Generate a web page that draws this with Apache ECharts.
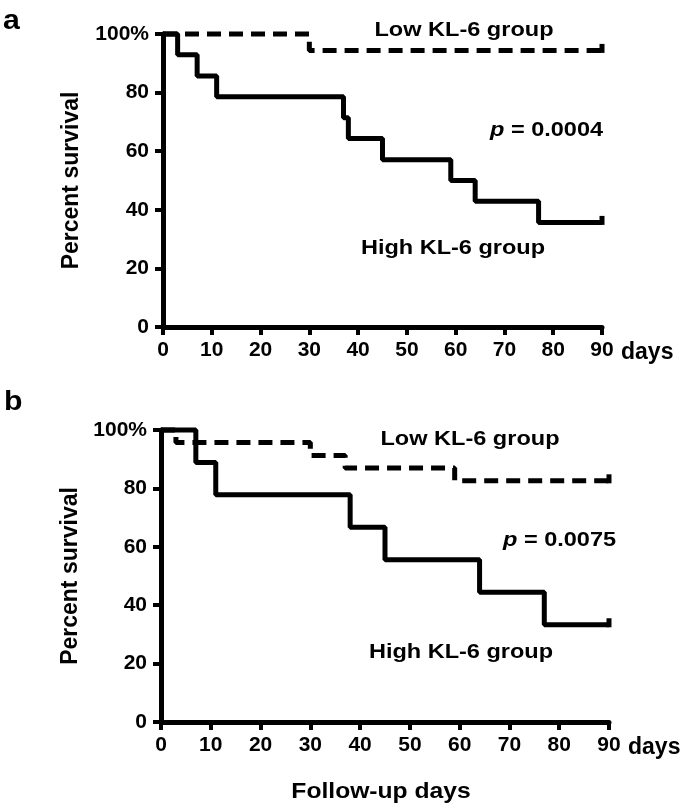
<!DOCTYPE html>
<html>
<head>
<meta charset="utf-8">
<script src="https://cdn.jsdelivr.net/npm/echarts@6/dist/echarts.min.js"></script>
<style>
  html, body { margin: 0; padding: 0; background: #fff; }
  #chart { width: 685px; height: 807px; }
</style>
</head>
<body>
<div id="chart"></div>
<script>
// survival curves, [day, percent] at each drop
var lowA = [[0, 100], [30, 94.4], [90, 94.4]];
var highA = [[0, 100], [3, 92.9], [7, 85.7], [11, 78.6], [37, 71.4], [38, 64.3], [45, 57.1], [59, 50.0], [64, 42.9], [77, 35.7], [90, 35.7]];
var censorA = [[90, 94.4], [90, 35.7]];

var lowB = [[0, 100], [3, 95.7], [30, 91.3], [37, 87.0], [59, 82.6], [90, 82.6]];
var highB = [[0, 100], [7, 88.9], [11, 77.8], [38, 66.7], [45, 55.6], [64, 44.4], [77, 33.3], [90, 33.3]];
var censorB = [[90, 82.6], [90, 33.3]];

var pValues = ['0.0004', '0.0075'];

var FONT = '"Liberation Sans", Arial, sans-serif';
var SX = 1.12; // source figure is a bit stretched sideways

function xAxisOpt(idx) {
    return {
        gridIndex: idx, type: 'value', min: 0, max: 90, interval: 10,
        name: 'days', nameLocation: 'end', nameGap: 19,
        nameTextStyle: { color: '#000', fontFamily: FONT, fontWeight: 'bold', fontSize: 23, verticalAlign: 'top', padding: [14, 0, 0, 0] },
        axisLine: { lineStyle: { color: '#000', width: 5 } },
        axisTick: { length: 8, lineStyle: { color: '#000', width: 4 } },
        axisLabel: { color: '#000', fontFamily: FONT, fontWeight: 'bold', fontSize: 21, margin: 13 },
        splitLine: { show: false }
    };
}
function yAxisOpt(idx, gap) {
    return {
        gridIndex: idx, type: 'value', min: 0, max: 100, interval: 20,
        name: 'Percent survival', nameLocation: 'middle', nameGap: gap,
        nameTextStyle: { color: '#000', fontFamily: FONT, fontWeight: 'bold', fontSize: 23 },
        axisLine: { show: true, lineStyle: { color: '#000', width: 5 } },
        axisTick: { show: true, length: 8, lineStyle: { color: '#000', width: 4 } },
        axisLabel: {
            color: '#000', fontFamily: FONT, fontWeight: 'bold', fontSize: 21, margin: 14,
            formatter: function (v) { return v === 100 ? '100%' : v; }
        },
        splitLine: { show: false }
    };
}
function curve(idx, data, dashed) {
    return {
        type: 'line', xAxisIndex: idx, yAxisIndex: idx, data: data, step: 'end',
        symbol: 'none', clip: false, animation: false,
        lineStyle: { color: '#000', width: 5, type: dashed ? [14, 8] : 'solid', cap: 'butt' }
    };
}
function censor(idx, data) {
    return {
        type: 'scatter', xAxisIndex: idx, yAxisIndex: idx, data: data,
        symbol: 'rect', symbolSize: [5, 9], symbolOffset: [0, -2], clip: false,
        itemStyle: { color: '#000', opacity: 1 }, animation: false
    };
}
function label(text, x, y, size, align) {
    return {
        type: 'text', x: x, y: y, scaleX: SX,
        style: { text: text, fill: '#000', fontFamily: FONT, fontWeight: 'bold', fontSize: size, align: align || 'center', verticalAlign: 'middle' }
    };
}
function pLabel(val, x, y) {
    return {
        type: 'text', x: x, y: y, scaleX: SX,
        style: {
            text: '{i|p} = ' + val, fill: '#000', fontFamily: FONT, fontWeight: 'bold', fontSize: 21,
            align: 'left', verticalAlign: 'middle',
            rich: { i: { fontStyle: 'italic', fontFamily: FONT, fontWeight: 'bold', fontSize: 21, fill: '#000' } }
        }
    };
}

var chart = echarts.init(document.getElementById('chart'));
chart.setOption({
    backgroundColor: '#fff',
    animation: false,
    grid: [
        { left: 163, top: 34, width: 439, height: 293 },
        { left: 161, top: 430, width: 448, height: 292 }
    ],
    xAxis: [xAxisOpt(0), xAxisOpt(1)],
    yAxis: [yAxisOpt(0, 80), yAxisOpt(1, 78)],
    series: [
        curve(0, lowA, true), curve(0, highA, false), censor(0, censorA),
        curve(1, lowB, true), curve(1, highB, false), censor(1, censorB)
    ],
    graphic: [
        label('a', 3, 22, 27, 'left'),
        label('Low KL-6 group', 464, 30, 21),
        pLabel(pValues[0], 490, 130),
        label('High KL-6 group', 453, 248, 21),
        label('b', 4, 403, 27, 'left'),
        label('Low KL-6 group', 470, 439, 21),
        pLabel(pValues[1], 503, 540),
        label('High KL-6 group', 461, 652, 21),
        label('Follow-up days', 381, 792, 22)
    ]
});
</script>
</body>
</html>
